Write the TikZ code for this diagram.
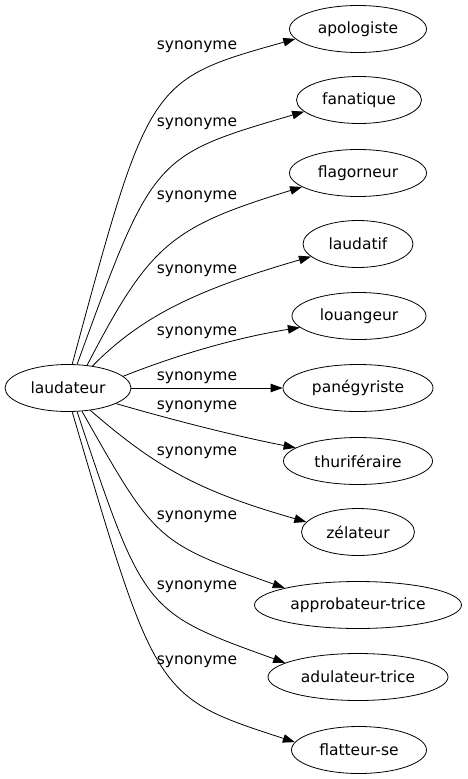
\documentclass[tikz,border=0pt]{standalone}
\usepackage{fontspec}
\setmainfont{DejaVu Sans}
\usetikzlibrary{shapes.geometric,arrows.meta}

\begin{document}
\begin{tikzpicture}[x=1pt,y=-1pt,
  every node/.style={font=\fontsize{15.5}{18}\selectfont},
  word/.style={draw,ellipse,line width=0.8pt,minimum height=47pt,inner sep=0pt},
  syn/.style={-{Triangle[length=12pt,width=8.5pt]},line width=0.8pt}]
\useasboundingbox (0,0) rectangle (467,779);
\path(68,388) node[word,minimum width=126pt](laudateur){laudateur}
 (358,29) node[word,minimum width=137pt](apologiste){apologiste}
 (359,100) node[word,minimum width=125pt](fanatique){fanatique}
 (358,173) node[word,minimum width=137pt](flagorneur){flagorneur}
 (358,244) node[word,minimum width=110pt](laudatif){laudatif}
 (359,316) node[word,minimum width=134pt](louangeur){louangeur}
 (358,388) node[word,minimum width=150pt](panegyriste){panégyriste}
 (358,461) node[word,minimum width=149pt](thuriferaire){thuriféraire}
 (358,532) node[word,minimum width=113pt](zelateur){zélateur}
 (358,605) node[word,minimum width=207pt](approbateur){approbateur-trice}
 (358,677) node[word,minimum width=180pt](adulateur){adulateur-trice}
 (359,750) node[word,minimum width=135pt](flatteur){flatteur-se};

\path(197,47) node(s1){synonyme} (197,124) node(s2){synonyme} (197,197) node(s3){synonyme}
 (197,271) node(s4){synonyme} (197,333) node(s5){synonyme} (197,378) node(s6){synonyme}
 (197,407) node(s7){synonyme} (197,453) node(s8){synonyme} (197,517) node(s9){synonyme}
 (197,587) node(s10){synonyme} (197,662) node(s11){synonyme};

\draw[syn] (laudateur.80) .. controls (149,80) and (149,80) .. (apologiste.189);
\draw[syn] (laudateur.69) .. controls (153,156) and (153,156) .. (fanatique.192);
\draw[syn] (laudateur.50) .. controls (150,244) and (171,227) .. (flagorneur.194);
\draw[syn] (laudateur.42) .. controls (140,318) and (192,291) .. (laudatif.195);
\draw[syn] (laudateur.12) .. controls (179,354) and (240,337) .. (louangeur.191);
\draw[syn] (laudateur) -- (panegyriste);
\draw[syn] (laudateur.-18) .. controls (173,420) and (235,436) .. (thuriferaire.168);
\draw[syn] (laudateur.-45) .. controls (159,470) and (202,492) .. (zelateur.169);
\draw[syn] (laudateur.-59) .. controls (156,542) and (156,542) .. (approbateur.167);
\draw[syn] (laudateur.-69) .. controls (144,612) and (144,612) .. (adulateur.169);
\draw[syn] (laudateur.-80) .. controls (156,697) and (156,697) .. (flatteur.173);
\end{tikzpicture}
\end{document}
